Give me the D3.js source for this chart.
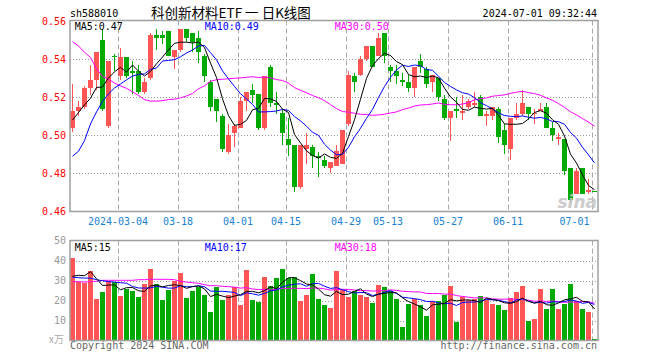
<!DOCTYPE html>
<html lang="zh-CN">
<head>
<meta charset="UTF-8">
<title>科创新材料ETF 日K线图</title>
<style>
  body { margin: 0; background: #fff; }
  svg text { font-family: "DejaVu Sans Mono", monospace; font-size: 10px; }
</style>
</head>
<body>
<svg width="660" height="360"></svg>
<script src="https://cdnjs.cloudflare.com/ajax/libs/d3/7.8.5/d3.min.js"></script>
<script>
var dates = [
  '2024-02-21','2024-02-22','2024-02-23','2024-02-26','2024-02-27','2024-02-28','2024-02-29',
  '2024-03-01','2024-03-04','2024-03-05','2024-03-06','2024-03-07','2024-03-08','2024-03-11',
  '2024-03-12','2024-03-13','2024-03-14','2024-03-15','2024-03-18','2024-03-19','2024-03-20',
  '2024-03-21','2024-03-22','2024-03-25','2024-03-26','2024-03-27','2024-03-28','2024-03-29',
  '2024-04-01','2024-04-02','2024-04-03','2024-04-08','2024-04-09','2024-04-10','2024-04-11',
  '2024-04-12','2024-04-15','2024-04-16','2024-04-17','2024-04-18','2024-04-19','2024-04-22',
  '2024-04-23','2024-04-24','2024-04-25','2024-04-26','2024-04-29','2024-04-30','2024-05-06',
  '2024-05-07','2024-05-08','2024-05-09','2024-05-10','2024-05-13','2024-05-14','2024-05-15',
  '2024-05-16','2024-05-17','2024-05-20','2024-05-21','2024-05-22','2024-05-23','2024-05-24',
  '2024-05-27','2024-05-28','2024-05-29','2024-05-30','2024-05-31','2024-06-03','2024-06-04',
  '2024-06-05','2024-06-06','2024-06-07','2024-06-11','2024-06-12','2024-06-13','2024-06-14',
  '2024-06-17','2024-06-18','2024-06-19','2024-06-20','2024-06-21','2024-06-24','2024-06-25',
  '2024-06-26','2024-06-27','2024-06-28','2024-07-01'
];

var open = [
  0.504, 0.513, 0.515, 0.525, 0.529, 0.550, 0.505, 0.5415, 0.531, 0.541,
  0.534, 0.534, 0.523, 0.530, 0.553, 0.553, 0.555, 0.541, 0.545, 0.556,
  0.554, 0.551, 0.542, 0.528, 0.519, 0.510, 0.491, 0.501, 0.504, 0.518,
  0.524, 0.522, 0.504, 0.536, 0.517, 0.512, 0.498, 0.495, 0.473, 0.493,
  0.494, 0.489, 0.487, 0.483, 0.484, 0.485, 0.506, 0.531, 0.532, 0.540,
  0.547, 0.542, 0.554, 0.536, 0.534, 0.529, 0.528, 0.525, 0.539, 0.535,
  0.528, 0.530, 0.519, 0.509, 0.514, 0.512, 0.515, 0.516, 0.520, 0.510,
  0.510, 0.514, 0.503, 0.493, 0.509, 0.511, 0.515, 0.511, 0.513, 0.515,
  0.504, 0.498, 0.498, 0.483, 0.469, 0.483, 0.470, 0.4705
];
var high = [
  0.527, 0.518, 0.526, 0.537, 0.544, 0.556, 0.539, 0.543, 0.546, 0.541,
  0.539, 0.537, 0.530, 0.554, 0.556, 0.555, 0.555, 0.545, 0.556, 0.556,
  0.554, 0.555, 0.543, 0.529, 0.519, 0.511, 0.506, 0.506, 0.520, 0.523,
  0.527, 0.522, 0.531, 0.537, 0.523, 0.514, 0.509, 0.495, 0.495, 0.501,
  0.495, 0.491, 0.489, 0.486, 0.495, 0.503, 0.534, 0.533, 0.542, 0.547,
  0.547, 0.554, 0.554, 0.537, 0.537, 0.533, 0.532, 0.536, 0.543, 0.536,
  0.532, 0.530, 0.521, 0.513, 0.520, 0.521, 0.519, 0.523, 0.521, 0.513,
  0.515, 0.515, 0.506, 0.509, 0.517, 0.524, 0.515, 0.514, 0.517, 0.517,
  0.507, 0.501, 0.498, 0.483, 0.483, 0.483, 0.477, 0.4705
];
var low = [
  0.502, 0.510, 0.514, 0.521, 0.524, 0.513, 0.504, 0.534, 0.529, 0.530,
  0.522, 0.522, 0.522, 0.529, 0.545, 0.548, 0.542, 0.535, 0.544, 0.549,
  0.544, 0.538, 0.528, 0.513, 0.507, 0.491, 0.490, 0.494, 0.504, 0.513,
  0.517, 0.503, 0.503, 0.515, 0.511, 0.495, 0.489, 0.470, 0.472, 0.485,
  0.483, 0.478, 0.483, 0.480, 0.484, 0.485, 0.505, 0.523, 0.531, 0.539,
  0.536, 0.542, 0.538, 0.528, 0.527, 0.526, 0.523, 0.520, 0.533, 0.525,
  0.523, 0.518, 0.508, 0.497, 0.509, 0.508, 0.514, 0.515, 0.510, 0.505,
  0.508, 0.496, 0.490, 0.487, 0.508, 0.510, 0.508, 0.506, 0.513, 0.504,
  0.497, 0.495, 0.479, 0.465, 0.469, 0.469, 0.469, 0.470
];
var close = [
  0.513, 0.515, 0.525, 0.529, 0.544, 0.514, 0.539, 0.541, 0.541, 0.531,
  0.533, 0.523, 0.528, 0.553, 0.551, 0.551, 0.542, 0.545, 0.556, 0.551,
  0.549, 0.544, 0.531, 0.515, 0.513, 0.493, 0.500, 0.505, 0.518, 0.523,
  0.521, 0.504, 0.531, 0.517, 0.516, 0.501, 0.495, 0.473, 0.495, 0.495,
  0.489, 0.488, 0.484, 0.486, 0.492, 0.503, 0.532, 0.528, 0.540, 0.547,
  0.536, 0.551, 0.542, 0.534, 0.531, 0.528, 0.525, 0.536, 0.536, 0.527,
  0.532, 0.520, 0.509, 0.513, 0.513, 0.513, 0.518, 0.517, 0.510, 0.511,
  0.515, 0.499, 0.495, 0.509, 0.511, 0.517, 0.511, 0.512, 0.514, 0.504,
  0.500, 0.499, 0.481, 0.466, 0.481, 0.469, 0.471, 0.470
];
// volume in 万
var volume = [
  41.4, 29.3, 28.8, 34.8, 20.8, 24.4, 30.1, 29.5, 22.4, 26.1,
  24.9, 21.8, 28.3, 35.8, 28.3, 20.4, 25.3, 30.0, 33.9, 21.3,
  24.9, 26.7, 22.9, 14.4, 27.1, 20.4, 22.9, 26.7, 17.9, 35.4,
  20.4, 19.4, 31.9, 27.4, 31.2, 35.8, 31.2, 31.9, 20.0, 22.9,
  33.4, 20.8, 17.9, 16.3, 34.9, 25.4, 21.8, 24.8, 22.9, 21.8,
  19.0, 27.9, 26.9, 24.9, 20.8, 6.8, 18.4, 20.9, 17.9, 12.4,
  20.0, 20.0, 22.9, 27.3, 9.3, 22.0, 20.6, 21.1, 22.4, 20.4,
  18.5, 18.0, 15.4, 21.2, 24.5, 27.4, 9.9, 10.9, 25.9, 15.9,
  25.9, 15.9, 18.5, 28.4, 19.8, 15.9, 14.3, 0.9
];

// MA values before the window is full (earlier days not shown)
var ma5Head = [0.508, 0.512, 0.516, 0.5195];
var ma10Head = [0.489, 0.4916, 0.4972, 0.506, 0.5123, 0.5179, 0.5218, 0.5249, 0.527];
var ma30Head = [0.5493, 0.547, 0.5437, 0.541, 0.535, 0.531, 0.5295, 0.5275, 0.526, 0.5247,
  0.5228, 0.521, 0.5188, 0.518, 0.518, 0.5182, 0.5188, 0.519, 0.5197, 0.5207,
  0.522, 0.5245, 0.526, 0.5285, 0.5292, 0.5295, 0.5298, 0.530, 0.5302];
var vma5Head = [32.2, 32.7, 32.5, 34.5];
var vma10Head = [31.7, 31.5, 31.3, 31.3, 30.5, 30.0, 29.5, 29.3, 29.0];
var vma30Head = [29.5, 29.5, 29.3, 29.5, 29.7, 30.2, 30.2, 30.2, 30.2, 30.2,
  30.2, 30.5, 30.5, 30.7, 30.7, 30.7, 30.7, 30.5, 29.7, 29.3,
  29.0, 28.7, 28.0, 27.5, 27.5, 27.2, 27.0, 26.8, 26.3];

var priceTicks = [0.46, 0.48, 0.50, 0.52, 0.54, 0.56];
var volTicks = [10, 20, 30, 40, 50];
var tickDates = ['2024-03-04','2024-03-18','2024-04-01','2024-04-15','2024-04-29',
  '2024-05-13','2024-05-27','2024-06-11','2024-07-01'];
var legendPrice = ['MA5:0.47', 'MA10:0.49', 'MA30:0.50'];
var legendVol = ['MA5:15', 'MA10:17', 'MA30:18'];
var maColors = ['#000000', '#0000ff', '#ff00ff'];

var RED = '#ff5555', GREEN = '#00aa00';

function movingAvg(vals, n, head) {
  return vals.map((v, i) => i < n - 1 ? head[i] : d3.mean(vals.slice(i - n + 1, i + 1)));
}

var svg = d3.select('svg');
var left = 70, right = 598;

var x = d3.scaleBand().domain(dates).range([left, right])
  .paddingInner(1 / 6).paddingOuter(1 / 12).align(0);
var yP = d3.scaleLinear().domain([0.46, 0.56]).range([211.3, 21.3]);
var yV = d3.scaleLinear().domain([0, 50]).range([340.7, 240.7]);
var bw = x.bandwidth();
var cx = d => x(d) + bw / 2;

// header
svg.append('text').attr('x', 70).attr('y', 17).text('sh588010');
svg.append('text').attr('x', 231).attr('y', 17.5).attr('text-anchor', 'middle')
  .attr('xml:space', 'preserve')
  .style('font-family', '"Noto Sans CJK SC", sans-serif').style('font-size', '13.5px')
  .text('科创新材料ETF 一 日K线图');
svg.append('text').attr('x', 597).attr('y', 17).attr('text-anchor', 'end').text('2024-07-01 09:32:44');

// grids
svg.append('g').selectAll('line').data(priceTicks.slice(1, -1)).enter().append('line')
  .attr('x1', left).attr('x2', right)
  .attr('y1', d => Math.round(yP(d)) + 0.5).attr('y2', d => Math.round(yP(d)) + 0.5)
  .attr('stroke', '#999').attr('stroke-dasharray', '1,2');
svg.append('g').selectAll('line').data(volTicks.slice(0, -1)).enter().append('line')
  .attr('x1', left).attr('x2', right)
  .attr('y1', d => Math.round(yV(d)) + 0.5).attr('y2', d => Math.round(yV(d)) + 0.5)
  .attr('stroke', '#999').attr('stroke-dasharray', '1,2');
[[20.5, 211.5], [240.5, 340.5]].forEach(function (r) {
  svg.append('g').selectAll('line').data(tickDates).enter().append('line')
    .attr('x1', d => x(d) + 0.5).attr('x2', d => x(d) + 0.5)
    .attr('y1', r[0]).attr('y2', r[1])
    .attr('stroke', '#aaa').attr('stroke-dasharray', '5,3');
});

// candles
var candles = svg.append('g').attr('shape-rendering', 'crispEdges')
  .selectAll('g').data(dates).enter().append('g')
  .attr('fill', (d, i) => close[i] >= open[i] ? RED : GREEN)
  .attr('stroke', (d, i) => close[i] >= open[i] ? RED : GREEN);
candles.append('line')
  .attr('x1', d => cx(d)).attr('x2', d => cx(d))
  .attr('y1', (d, i) => yP(high[i])).attr('y2', (d, i) => yP(low[i]));
candles.append('rect')
  .attr('stroke', 'none')
  .attr('x', d => x(d)).attr('width', bw)
  .attr('y', (d, i) => yP(Math.max(open[i], close[i])))
  .attr('height', (d, i) => Math.max(1, Math.abs(yP(open[i]) - yP(close[i]))));

// volume bars
svg.append('g').attr('shape-rendering', 'crispEdges')
  .selectAll('rect').data(dates).enter().append('rect')
  .attr('x', d => x(d)).attr('width', bw)
  .attr('y', (d, i) => yV(volume[i]))
  .attr('height', (d, i) => yV(0) - yV(volume[i]))
  .attr('fill', (d, i) => close[i] >= open[i] ? RED : GREEN);

// MA lines
var pMAs = [movingAvg(close, 5, ma5Head), movingAvg(close, 10, ma10Head), movingAvg(close, 30, ma30Head)];
var vMAs = [movingAvg(volume, 5, vma5Head), movingAvg(volume, 10, vma10Head), movingAvg(volume, 30, vma30Head)];
var lineP = d3.line().x((d, i) => cx(dates[i])).y(d => yP(d));
var lineV = d3.line().x((d, i) => cx(dates[i])).y(d => yV(d));
[2, 1, 0].forEach(function (k) {
  svg.append('path').attr('d', lineP(pMAs[k])).attr('fill', 'none')
    .attr('stroke', maColors[k]).attr('stroke-width', 1);
  svg.append('path').attr('d', lineV(vMAs[k])).attr('fill', 'none')
    .attr('stroke', maColors[k]).attr('stroke-width', 1);
});

// watermark
svg.append('text').attr('x', 597).attr('y', 208).attr('text-anchor', 'end')
  .style('font-family', '"DejaVu Sans", sans-serif').style('font-size', '17px')
  .style('font-weight', 'bold').style('font-style', 'italic')
  .attr('fill', '#c4c4c4').attr('opacity', 0.85).text('sina');

// frames
svg.append('rect').attr('x', left).attr('y', 20.5).attr('width', right - left).attr('height', 191)
  .attr('fill', 'none').attr('stroke', '#a0a0a0').attr('stroke-width', 1.5);
svg.append('rect').attr('x', left).attr('y', 240.5).attr('width', right - left).attr('height', 100)
  .attr('fill', 'none').attr('stroke', '#a0a0a0').attr('stroke-width', 1.5);

// y axes
var axP = svg.append('g').attr('transform', 'translate(' + left + ',0)')
  .call(d3.axisLeft(yP).tickValues(priceTicks).tickFormat(d3.format('.2f')).tickSize(0).tickPadding(4));
var axV = svg.append('g').attr('transform', 'translate(' + left + ',0)')
  .call(d3.axisLeft(yV).tickValues(volTicks).tickFormat(d3.format('d')).tickSize(0).tickPadding(4));
[axP, axV].forEach(g => {
  g.select('.domain').remove();
  g.attr('font-family', null).attr('font-size', null);
});
axP.attr('color', '#ff0000');
axV.attr('color', '#999999');
svg.append('text').attr('x', 64).attr('y', 343).attr('text-anchor', 'end')
  .attr('fill', '#aaa').style('font-family', '"Noto Sans CJK SC", sans-serif').style('font-size', '10px')
  .text('x万');

// date labels
svg.append('g').selectAll('text').data(tickDates).enter().append('text')
  .attr('x', (d, i) => i === tickDates.length - 1 ? x(d) - 2.5 : x(d))
  .attr('y', 225)
  .attr('text-anchor', (d, i) => i === tickDates.length - 1 ? 'end' : 'middle')
  .attr('fill', '#1a82d2')
  .text((d, i) => i === 0 ? d : d.slice(5));

// legends
legendPrice.forEach(function (t, k) {
  svg.append('text').attr('x', 74.7 + 130 * k).attr('y', 30).attr('fill', maColors[k]).text(t);
});
legendVol.forEach(function (t, k) {
  svg.append('text').attr('x', 74.7 + 130 * k).attr('y', 250.5).attr('fill', maColors[k]).text(t);
});

// footer
svg.append('text').attr('x', 70).attr('y', 349).attr('fill', '#666').text('Copyright 2024 SINA.COM');
svg.append('text').attr('x', 597).attr('y', 349).attr('text-anchor', 'end').attr('fill', '#666')
  .text('http://finance.sina.com.cn');
</script>
</body>
</html>
